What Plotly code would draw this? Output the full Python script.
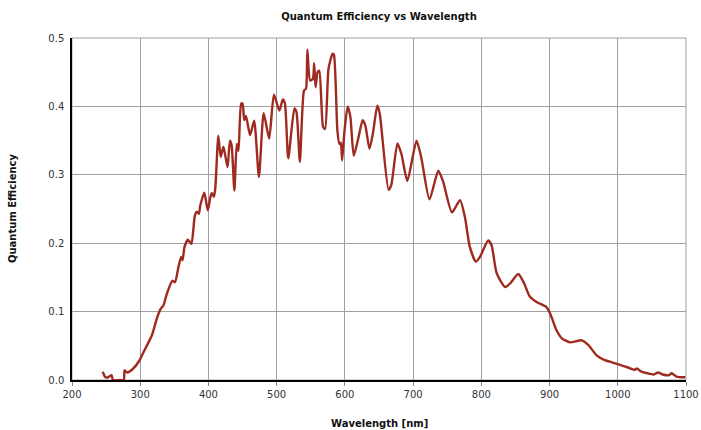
import plotly.graph_objects as go

wavelength = [245, 249, 253, 258, 260, 270, 276, 277, 281, 288, 298, 305, 317, 325, 330, 334, 339, 347, 351, 356,
              360, 362, 365, 370, 375, 380, 383, 386, 388, 394, 399, 403, 405, 408, 410, 414.5, 418, 422, 428, 431.5,
              434, 438, 441.5, 444, 448, 450, 452.5, 455, 461, 467, 474, 481, 489, 496, 504, 509, 512, 517, 526, 529,
              534, 540, 543, 545, 549, 553, 555, 557, 560, 562.5, 568, 571, 576, 582, 584, 589, 592, 594, 596, 599,
              604, 608, 613, 620, 626, 630, 636, 641, 647.5, 651, 664, 668, 677, 683, 691.5, 705, 712, 724, 737, 744,
              757, 768.7, 776, 783, 792, 798, 810, 815, 822.5, 835, 843, 854, 862, 871, 881, 895, 901, 910, 918, 930,
              947, 957, 969, 981, 998, 1013, 1025, 1028, 1033, 1047, 1053, 1059, 1066, 1075, 1079, 1086, 1099]
qe = [0.012, 0.004, 0.004, 0.007, 0.0, 0.0, 0.0, 0.014, 0.011, 0.015, 0.027, 0.041, 0.065, 0.092, 0.104, 0.109, 0.126, 0.145, 0.143, 0.165,
      0.18, 0.175, 0.195, 0.205, 0.199, 0.24, 0.246, 0.243, 0.255, 0.274, 0.248, 0.268, 0.273, 0.268, 0.28, 0.357, 0.326, 0.341, 0.311, 0.35,
      0.343, 0.277, 0.345, 0.335, 0.404, 0.404, 0.38, 0.386, 0.358, 0.379, 0.297, 0.39, 0.353, 0.417, 0.394, 0.41, 0.405, 0.324, 0.397, 0.392,
      0.319, 0.423, 0.426, 0.483, 0.438, 0.44, 0.463, 0.428, 0.45, 0.452, 0.37, 0.367, 0.455, 0.477, 0.475, 0.365, 0.345, 0.347, 0.321, 0.36,
      0.4, 0.385, 0.328, 0.355, 0.38, 0.372, 0.338, 0.36, 0.401, 0.39, 0.278, 0.285, 0.346, 0.33, 0.291, 0.35, 0.325, 0.264, 0.306, 0.29,
      0.245, 0.263, 0.238, 0.195, 0.173, 0.18, 0.204, 0.197, 0.156, 0.136, 0.142, 0.155, 0.143, 0.122, 0.114, 0.107, 0.097, 0.073, 0.061, 0.055,
      0.058, 0.051, 0.036, 0.029, 0.024, 0.019, 0.015, 0.017, 0.013, 0.009, 0.008, 0.011, 0.008, 0.007, 0.01, 0.005, 0.004]

x_ticks = [200, 300, 400, 500, 600, 700, 800, 900, 1000, 1100]
y_ticks = [0.0, 0.1, 0.2, 0.3, 0.4, 0.5]

FONT = "DejaVu Sans"
TFONT = dict(family=FONT, size=10, color="#111111")
fig = go.Figure()
fig.add_trace(go.Scatter(
    x=wavelength, y=qe, mode="lines",
    line=dict(color="#9e2a20", width=2.4, shape="spline", smoothing=0.6),
    showlegend=False, hoverinfo="x+y"))

fig.update_layout(
    width=701, height=430,
    margin=dict(l=72, r=15, t=38, b=50, autoexpand=False),
    paper_bgcolor="white", plot_bgcolor="white",
    font=dict(family=FONT, size=10, color="#333333"),
    title=dict(text="<b>Quantum Efficiency vs Wavelength</b>", x=379 / 701, xanchor="center",
               y=1 - 16 / 430, yanchor="middle", font=TFONT),
    xaxis=dict(range=[200, 1100], tickvals=x_ticks, ticktext=[str(v) for v in x_ticks],
               showgrid=True, gridcolor="#a0a0a0", gridwidth=1,
               showline=True, linecolor="#000000", linewidth=1.5,
               ticks="outside", ticklen=4, tickcolor="#888888",
               zeroline=False, automargin=False),
    yaxis=dict(range=[0, 0.5], tickvals=y_ticks, ticktext=["%.1f" % v for v in y_ticks],
               showgrid=True, gridcolor="#a0a0a0", gridwidth=1,
               showline=True, linecolor="#000000", linewidth=1.5,
               ticks="outside", ticklen=4, tickcolor="#ffffff",
               zeroline=False, automargin=False),
    shapes=[dict(type="rect", xref="paper", yref="paper", x0=0, y0=0, x1=1, y1=1,
                 line=dict(color="#a0a0a0", width=1), layer="below")],
    annotations=[
        dict(text="<b>Wavelength [nm]</b>", xref="paper", yref="paper", x=0.5, y=-43 / 342,
             xanchor="center", yanchor="middle", showarrow=False, font=TFONT),
        dict(text="<b>Quantum Efficiency</b>", xref="paper", yref="paper", x=-60 / 614, y=0.5,
             xanchor="center", yanchor="middle", textangle=-90, showarrow=False, font=TFONT),
    ],
)
fig.write_html("out.html", config={"displayModeBar": False},
               post_script="document.body.style.margin='0';document.body.style.overflow='hidden';")
